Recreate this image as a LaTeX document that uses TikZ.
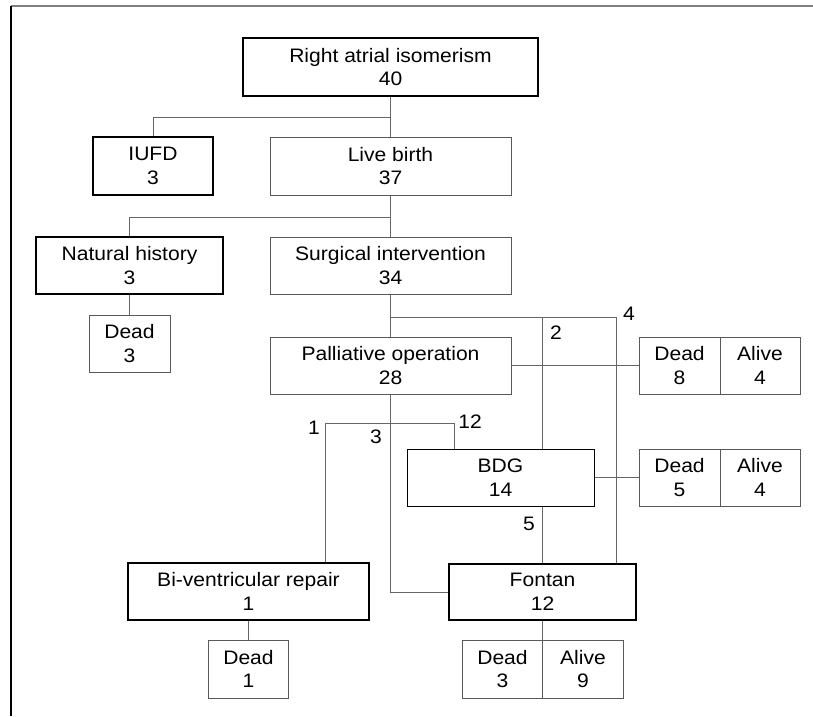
\documentclass[tikz,border=0pt]{standalone}
\usepackage{fontspec}
\setmainfont{Liberation Sans}[FakeStretch=1.08]
\usetikzlibrary{calc}
\begin{document}
\begin{tikzpicture}[x=1pt,y=-1pt, every node/.style={font=\fontsize{19.5}{23.5}\selectfont},
  box/.style={draw=gray!70!black,line width=1pt,inner sep=0pt,minimum height=57pt,align=center},
  bold/.style={box,draw=black,line width=1.8pt},
  link/.style={draw=gray!80!black,line width=1pt},
  num/.style={inner sep=0pt}]
\useasboundingbox (0,0) rectangle (813,716);
% frame
\draw[gray,line width=2pt] (11,6) -- (813,6);
\draw[black,line width=1.2pt] (11,6) -- (11,716);
% top of the tree
\node[bold,minimum width=295pt,minimum height=58pt] (rai) at (390.5,67) {Right atrial isomerism\\40};
\node[bold,minimum width=120pt,minimum height=58pt] (iufd) at (153,166) {IUFD\\3};
\node[box,minimum width=241pt,minimum height=58pt] (live) at (390.5,166) {Live birth\\37};
\node[bold,minimum width=187pt] (nat) at (129.5,265.5) {Natural history\\3};
\node[box,minimum width=241pt] (surg) at (390.5,265.5) {Surgical intervention\\34};
\node[box,minimum width=81pt] (natd) at (129.5,343.5) {Dead\\3};
\node[box,minimum width=241pt] (pall) at (390.5,365.5) {Palliative operation\\28};
\node[box,minimum width=81pt] (palld) at (679.5,365.5) {Dead\\8};
\node[box,minimum width=80pt] (palla) at (760,365.5) {Alive\\4};
% lower part
\node[box,draw=black,line width=1pt,minimum width=187pt] (bdg) at (500.5,477.5) {BDG\\14};
\node[box,minimum width=81pt] (bdgd) at (679.5,477.5) {Dead\\5};
\node[box,minimum width=80pt] (bdga) at (760,477.5) {Alive\\4};
\node[bold,minimum width=241pt] (biv) at (248.5,591.5) {Bi-ventricular repair\\1};
\node[bold,minimum width=187pt,minimum height=56pt] (fon) at (542.5,592) {Fontan\\12};
\node[box,minimum width=80pt,minimum height=58pt] (bivd) at (248.5,669) {Dead\\1};
\node[box,minimum width=80pt,minimum height=58pt] (fond) at (502.5,669) {Dead\\3};
\node[box,minimum width=81pt,minimum height=58pt] (fona) at (583,669) {Alive\\9};
% numbers on the lines
\node[num] (n4) at (629,314) {4};
\node[num] (n2) at (556,333) {2};
\node[num] (n1) at (314,428) {1};
\node[num] (n12) at (470,422) {12};
\node[num] (n3) at (376,437) {3};
\node[num] (n5) at (529,524) {5};
% connectors
\draw[link] (rai.south) -- (live.north);
\draw[link] (rai.south) ++(0,21) -| (iufd.north);
\draw[link] (live.south) -- (surg.north);
\draw[link] (live.south) ++(0,22) -| (nat.north);
\draw[link] (nat.south) -- (natd.north);
\draw[link] (surg.south) -- (pall.north);
\draw[link] (surg.south) ++(0,23) -| ($(fon.north east)+(-20,0)$);
\draw[link] (surg.south) ++(0,23) -| (bdg.north -| fon.north);
\draw[link] (pall.east) -- (palld.west);
\draw[link] (pall.south) |- (fon.west);
\draw[link] ($(biv.north)+(76.5,0)$) |- ($(pall.south)+(0,29)$) -| ($(bdg.north west)+(48,0)$);
\draw[link] (bdg.east) -- (bdgd.west);
\draw[link] (bdg.south -| fon.north) -- (fon.north);
\draw[link] (biv.south) -- (bivd.north);
\draw[link] (fon.south) -- (fon.south |- fond.north);
\end{tikzpicture}
\end{document}
